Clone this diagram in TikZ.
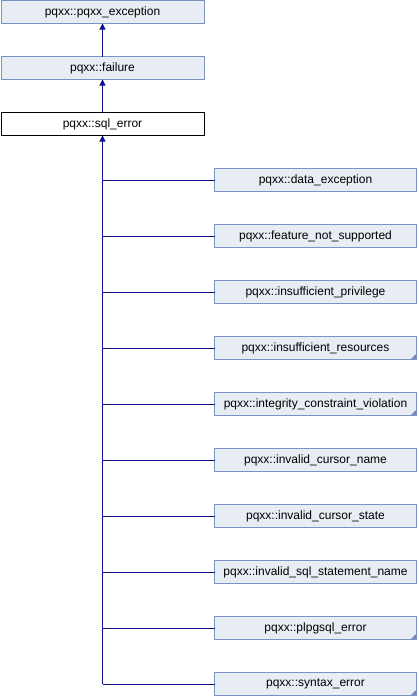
\documentclass[tikz,border=0pt]{standalone}
\usepackage{fontspec}
\setmainfont{Liberation Sans}
\usetikzlibrary{arrows.meta}
\definecolor{boxfill}{HTML}{E8ECF5}
\definecolor{boxdraw}{HTML}{7A92C6}
\definecolor{linkcol}{HTML}{10108F}
\definecolor{cornercol}{HTML}{6F87C0}
\begin{document}
\begin{tikzpicture}[x=0.75pt,y=-0.75pt,
  every node/.style={font=\fontsize{9}{10}\selectfont, inner sep=0pt, outer sep=0pt},
  cls/.style={draw=boxdraw, fill=boxfill, line width=0.75pt, minimum width=152.25pt, minimum height=17.25pt},
  clsw/.style={draw=black, fill=white, line width=0.75pt, minimum width=152.25pt, minimum height=17.25pt},
  kid/.style={draw=boxdraw, fill=boxfill, line width=0.75pt, minimum width=151.5pt, minimum height=17.25pt},
  more/.style={path picture={\fill[cornercol] (path picture bounding box.south east) -- ++(-4.5pt,0) -- ++(4.5pt,4.5pt) -- cycle;}},
  inh/.style={draw=linkcol, line width=0.75pt, -{Triangle[width=4.5pt,length=4.5pt]}},
  link/.style={draw=linkcol, line width=0.75pt}
]
\useasboundingbox (0,0) rectangle (418,696);
\node[cls] (ex) at (102.5,12) {pqxx::pqxx\_exception};
\node[cls] (fail) at (102.5,68) {pqxx::failure};
\node[clsw] (sql) at (102.5,124) {pqxx::sql\_error};
\node[kid] (c1) at (315.5,180) {pqxx::data\_exception};
\node[kid] (c2) at (315.5,236) {pqxx::feature\_not\_supported};
\node[kid] (c3) at (315.5,292) {pqxx::insufficient\_privilege};
\node[kid,more] (c4) at (315.5,348) {pqxx::insufficient\_resources};
\node[kid,more] (c5) at (315.5,404) {pqxx::integrity\_constraint\_violation};
\node[kid] (c6) at (315.5,460) {pqxx::invalid\_cursor\_name};
\node[kid] (c7) at (315.5,516) {pqxx::invalid\_cursor\_state};
\node[kid] (c8) at (315.5,572) {pqxx::invalid\_sql\_statement\_name};
\node[kid,more] (c9) at (315.5,628) {pqxx::plpgsql\_error};
\node[kid,more] (c10) at (315.5,684) {pqxx::syntax\_error};
\draw[inh] (fail.north) -- (ex.south);
\draw[inh] (sql.north) -- (fail.south);
\coordinate (bot) at (sql.south |- c10.west);
\draw[inh] (bot) -- (sql.south);
\foreach \c in {c1,c2,c3,c4,c5,c6,c7,c8,c9,c10}
  \draw[link] (sql.south |- \c.west) -- (\c.west);
\end{tikzpicture}
\end{document}
